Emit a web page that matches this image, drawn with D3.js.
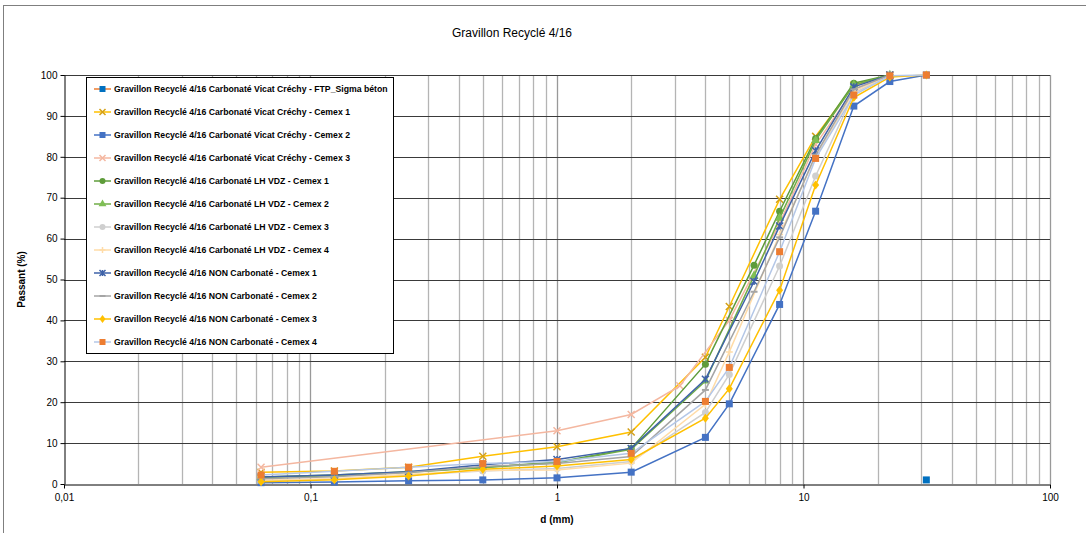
<!DOCTYPE html>
<html>
<head>
<meta charset="utf-8">
<script src="https://cdn.jsdelivr.net/npm/d3@7"></script>
<style>
  body { margin: 0; background: #fff; }
  svg { display: block; font-family: "Liberation Sans", Arial, sans-serif; }
</style>
</head>
<body>
<svg id="chart"></svg>
<script>
// sieve sizes (mm)
let sieves = [0.063, 0.125, 0.25, 0.5, 1, 2, 3.15, 4, 5, 6.3, 8, 11.2, 16, 22.4, 31.5];
const n = null;

// passing (%) per series, aligned with sieves (null = not measured)
let vicatFtp    = [n, n, n, n, n, n, n, n, n, n, n, n, n, n, 1.0];
let vicatCemex1 = [2.85, 3.2, 4.1, 6.8, 9.1, 12.7, n, 31.0, 43.4, n, 69.6, 85.0, 97.5, 100, n];
let vicatCemex2 = [0.33, 0.49, 0.8, 1.0, 1.5, 2.9, n, 11.4, 19.6, n, 43.9, 66.7, 92.4, 98.4, 100];
let vicatCemex3 = [4.1, n, n, n, 13.0, 17.0, 24.0, n, 40.0, n, 63.8, 83.0, 96.5, 100, n];
let lhCemex1    = [1.7, 2.2, 3.0, 4.1, 5.3, 8.7, n, 29.3, n, 53.5, 66.7, 84.5, 98.0, 100, n];
let lhCemex2    = [1.6, 2.0, 2.9, 4.0, 5.2, 8.5, n, 25.2, n, 50.9, 65.0, 84.0, 97.6, 100, n];
let lhCemex3    = [0.8, 1.2, 2.2, 3.2, 3.8, 5.5, n, 17.5, 26.8, n, 53.3, 75.3, 95.5, 100, n];
let lhCemex4    = [0.9, 1.3, 2.4, 3.3, 3.4, 5.1, n, 19.5, 32.3, n, 61.0, 80.0, 96.0, 100, n];
let nonCemex1   = [1.7, 2.2, 3.0, 4.7, 6.0, 8.7, n, 25.6, n, 49.5, 63.1, 81.5, 97.1, 100, n];
let nonCemex2   = [1.3, 1.8, 2.8, 4.3, 5.0, 6.7, n, 23.0, n, 47.0, 60.3, 80.5, 96.5, 100, n];
let nonCemex3   = [0.57, 1.06, 1.96, 3.6, 4.4, 6.0, n, 16.1, 23.3, n, 47.4, 73.1, 94.5, 99.5, 100];
let nonCemex4   = [2.2, 3.1, 4.1, 5.0, 5.5, 7.5, n, 20.2, 28.5, n, 56.8, 79.6, 95.1, 99.8, 100];

let seriesNames = [
  'Gravillon Recyclé 4/16 Carbonaté Vicat Créchy - FTP_Sigma béton',
  'Gravillon Recyclé 4/16 Carbonaté Vicat Créchy - Cemex 1',
  'Gravillon Recyclé 4/16 Carbonaté Vicat Créchy - Cemex 2',
  'Gravillon Recyclé 4/16 Carbonaté Vicat Créchy - Cemex 3',
  'Gravillon Recyclé 4/16 Carbonaté LH VDZ - Cemex 1',
  'Gravillon Recyclé 4/16 Carbonaté LH VDZ - Cemex 2',
  'Gravillon Recyclé 4/16 Carbonaté LH VDZ - Cemex 3',
  'Gravillon Recyclé 4/16 Carbonaté LH VDZ - Cemex 4',
  'Gravillon Recyclé 4/16 NON Carbonaté - Cemex 1',
  'Gravillon Recyclé 4/16 NON Carbonaté - Cemex 2',
  'Gravillon Recyclé 4/16 NON Carbonaté - Cemex 3',
  'Gravillon Recyclé 4/16 NON Carbonaté - Cemex 4'
];
let seriesValues = [vicatFtp, vicatCemex1, vicatCemex2, vicatCemex3, lhCemex1, lhCemex2,
  lhCemex3, lhCemex4, nonCemex1, nonCemex2, nonCemex3, nonCemex4];

let xTicks = [0.01, 0.1, 1, 10, 100];
let yTicks = [0, 10, 20, 30, 40, 50, 60, 70, 80, 90, 100];

// style per series: line colour, marker colour, marker type
let styles = [
  { line: '#ED7D31', mark: '#0070C0', type: 'square' },
  { line: '#FFC000', mark: '#D4A017', type: 'x' },
  { line: '#4472C4', mark: '#4472C4', type: 'square' },
  { line: '#F4B7A0', mark: '#F4B7A0', type: 'x' },
  { line: '#5E9C3A', mark: '#5E9C3A', type: 'circle' },
  { line: '#70AD47', mark: '#7FBF55', type: 'triangle' },
  { line: '#CFCFCF', mark: '#CFCFCF', type: 'circle' },
  { line: '#FFDCA8', mark: '#FFDCA8', type: 'plus' },
  { line: '#3E62A8', mark: '#3E62A8', type: 'star' },
  { line: '#A5A5A5', mark: '#A5A5A5', type: 'dash' },
  { line: '#FFC000', mark: '#FFC000', type: 'diamond' },
  { line: '#B4C7E7', mark: '#ED7D31', type: 'square' }
];

let width = 1086, height = 533;
let margin = { top: 75, bottom: 49, left: 64, right: 36 };

let svg = d3.select('#chart').attr('width', width).attr('height', height);

// chart border
svg.append('rect')
  .attr('x', 3.5).attr('y', 5.5).attr('width', 1090).attr('height', 540)
  .attr('fill', 'none').attr('stroke', '#7f7f7f');

svg.append('text')
  .attr('x', 512).attr('y', 37)
  .attr('text-anchor', 'middle')
  .style('font-size', '12px')
  .text('Gravillon Recyclé  4/16');

let xScale = d3.scaleLog().domain([0.01, 100]).range([margin.left, width - margin.right]);
let yScale = d3.scaleLinear().domain([0, 100]).range([height - margin.bottom, margin.top]);

// vertical grid (log minor + major)
let xGrid = [];
for (let k = -2; k < 2; k++) {
  for (let m = 1; m <= 9; m++) xGrid.push(m * Math.pow(10, k));
}
xGrid.push(100);
svg.append('g').selectAll('line').data(xGrid.filter(d => d > 0.01)).enter().append('line')
  .attr('x1', d => Math.round(xScale(d)) + 0.5).attr('x2', d => Math.round(xScale(d)) + 0.5)
  .attr('y1', yScale(100)).attr('y2', yScale(0))
  .attr('stroke', d => xTicks.includes(d) ? '#999' : '#b4b4b4')
  .attr('stroke-width', 1.3);

// horizontal grid
svg.append('g').selectAll('line').data(yTicks.filter(d => d > 0)).enter().append('line')
  .attr('x1', xScale(0.01)).attr('x2', xScale(100))
  .attr('y1', d => Math.round(yScale(d)) + 0.5).attr('y2', d => Math.round(yScale(d)) + 0.5)
  .attr('stroke', '#3a3a3a');

// axes
let yAxis = svg.append('g')
  .attr('transform', `translate(${xScale(0.01) + 0.5},0)`)
  .call(d3.axisLeft(yScale).tickValues(yTicks).tickSize(4).tickSizeOuter(0));
yAxis.selectAll('text').style('font-size', '10px').attr('fill', '#000').attr('x', -7);
yAxis.selectAll('line, path').attr('stroke', '#000');

let xAxis = svg.append('g')
  .attr('transform', `translate(0,${Math.round(yScale(0)) + 0.5})`)
  .call(d3.axisBottom(xScale).tickValues(xTicks).tickSize(4).tickSizeOuter(0)
    .tickFormat(d => String(d).replace('.', ',')));
xAxis.selectAll('text').style('font-size', '10px').attr('fill', '#000').attr('y', 9);
xAxis.selectAll('line, path').attr('stroke', '#000');

svg.append('text')
  .attr('x', 557).attr('y', 523).attr('text-anchor', 'middle')
  .style('font-size', '10px').style('font-weight', 'bold')
  .text('d (mm)');

svg.append('text')
  .attr('transform', `translate(25,${(yScale(0) + yScale(100)) / 2}) rotate(-90)`)
  .attr('text-anchor', 'middle')
  .style('font-size', '10px').style('font-weight', 'bold')
  .text('Passant (%)');

// marker drawing
function drawMarker(g, type, color, size) {
  let s = size || 7;
  let h = s / 2;
  if (type === 'square') {
    g.append('rect').attr('x', -h).attr('y', -h).attr('width', s).attr('height', s).attr('fill', color);
  } else if (type === 'circle') {
    g.append('circle').attr('r', h).attr('fill', color);
  } else if (type === 'triangle') {
    g.append('path').attr('d', d3.symbol().type(d3.symbolTriangle).size(s * s * 0.75)).attr('fill', color);
  } else if (type === 'diamond') {
    g.append('path').attr('d', `M0,${-h - 1}L${h},0L0,${h + 1}L${-h},0Z`).attr('fill', color);
  } else if (type === 'x') {
    g.append('path').attr('d', `M${-h},${-h}L${h},${h}M${-h},${h}L${h},${-h}`)
      .attr('stroke', color).attr('stroke-width', 1.5).attr('fill', 'none');
  } else if (type === 'star') {
    g.append('path').attr('d', `M${-h},${-h}L${h},${h}M${-h},${h}L${h},${-h}M0,${-h}L0,${h}`)
      .attr('stroke', color).attr('stroke-width', 1.5).attr('fill', 'none');
  } else if (type === 'plus') {
    g.append('path').attr('d', `M${-h},0L${h},0M0,${-h}L0,${h}`)
      .attr('stroke', color).attr('stroke-width', 1.5).attr('fill', 'none');
  } else if (type === 'dash') {
    g.append('path').attr('d', `M${-h},0L${h},0`)
      .attr('stroke', color).attr('stroke-width', 2).attr('fill', 'none');
  }
}

let line = d3.line().x(d => xScale(d.x)).y(d => yScale(d.y));

let plot = svg.append('g');
seriesValues.forEach((vals, i) => {
  let pts = sieves.map((x, j) => ({ x: x, y: vals[j] })).filter(d => d.y !== null);
  let st = styles[i];
  if (pts.length > 1) {
    plot.append('path').datum(pts).attr('d', line)
      .attr('fill', 'none').attr('stroke', st.line).attr('stroke-width', 1.5);
  }
  plot.append('g').selectAll('g').data(pts).enter().append('g')
    .attr('transform', d => `translate(${xScale(d.x)},${yScale(d.y)})`)
    .each(function() { drawMarker(d3.select(this), st.type, st.mark); });
});

// legend
let legend = svg.append('g');
legend.append('rect')
  .attr('x', 86.5).attr('y', 77.5).attr('width', 307).attr('height', 276)
  .attr('fill', '#fff').attr('stroke', '#000');
seriesNames.forEach((name, i) => {
  let y = 89 + i * 23;
  let st = styles[i];
  legend.append('line').attr('x1', 94).attr('x2', 111).attr('y1', y).attr('y2', y)
    .attr('stroke', st.line).attr('stroke-width', 1.5);
  let g = legend.append('g').attr('transform', `translate(102.5,${y})`);
  drawMarker(g, st.type, st.mark, 6);
  legend.append('text').attr('x', 114).attr('y', y + 3)
    .style('font-size', '8.7px').style('font-weight', 'bold')
    .text(name);
});
</script>
</body>
</html>
